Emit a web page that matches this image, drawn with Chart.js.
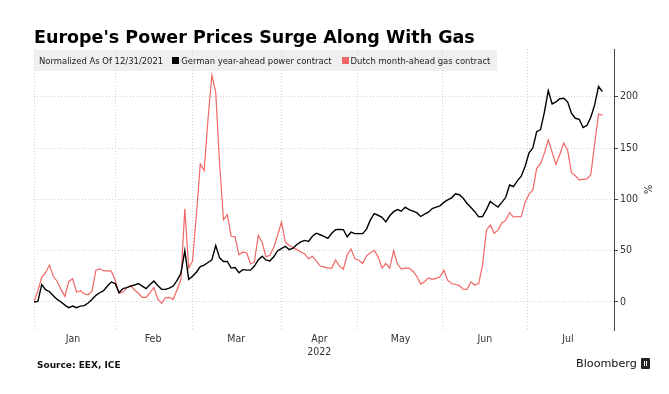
<!DOCTYPE html>
<html>
<head>
<meta charset="utf-8">
<script src="https://cdn.jsdelivr.net/npm/chart.js@4.4.1/dist/chart.umd.min.js"></script>
<style>
  body { margin: 0; background: #fff; }
  #wrap { position: relative; width: 669px; height: 394px; font-family: "DejaVu Sans Condensed", "DejaVu Sans", sans-serif; }
  #chart { position: absolute; left: 0; top: 0; }
  #title { position: absolute; left: 34px; top: 27px; font: bold 17.5px/20px "DejaVu Sans", sans-serif; color: #000; white-space: nowrap; }
  #legend { position: absolute; left: 34px; top: 50px; width: 463px; height: 21px; box-sizing: border-box; padding-left: 5px;
            background: rgba(232, 232, 232, 0.7); display: flex; align-items: center; font-size: 9.4px; color: #1a1a1a; white-space: nowrap; }
  #legend .note { margin-right: 9px; }
  #legend .item { display: flex; align-items: center; margin-right: 10px; }
  #legend .sw { width: 7px; height: 7px; margin-right: 2px; }
  #source { position: absolute; left: 37px; top: 360px; font: bold 9px "DejaVu Sans", sans-serif; color: #111; }
  #brand { position: absolute; left: 576px; top: 357px; font: 11.2px "DejaVu Sans", sans-serif; color: #111; display: flex; align-items: center; }
  #brand .logo { width: 9px; height: 11px; margin-left: 4px; background: #222; border-radius: 1px; position: relative; }
  #brand .logo::after { content: ""; position: absolute; left: 3px; top: 3px; width: 3px; height: 5px; border-left: 1px solid #fff; border-right: 1px solid #fff; box-sizing: border-box; }
</style>
</head>
<body>
<div id="wrap">
  <canvas id="chart" width="669" height="394"></canvas>
  <div id="title">Europe's Power Prices Surge Along With Gas</div>
  <div id="legend"></div>
  <div id="source">Source: EEX, ICE</div>
  <div id="brand">Bloomberg<span class="logo"></span></div>
</div>
<script>
// trading days from 12/31/2021, normalized to 0 %
const germanPower = [
  0, 0.5, 17, 12, 10, 6, 2.5, 0, -3, -5.5,
  -4, -5.5, -4, -3.5, -1, 2.5, 6.5, 9, 11, 15.5,
  19.5, 18, 9, 13, 14, 15.5, 16.5, 18, 15.5, 13,
  17, 20.5, 16, 12.3, 12.3, 13.5, 15.5, 21, 28, 50,
  22, 25, 29, 34.5, 36, 38.5, 41, 55, 43, 39.5,
  39.5, 33, 33.5, 28.5, 31.5, 31, 31, 35, 41, 44.6,
  41, 40, 44, 50, 52, 54.3, 51, 52.5, 56, 58.5,
  60, 59, 64, 67, 65.5, 64, 62, 67, 70.5, 70.7,
  70.5, 63.5, 68, 66.6, 66.6, 66.6, 71, 80, 86, 84.5,
  82.5, 78, 84, 88, 90, 88.5, 92.5, 90, 88.5, 87,
  83.3, 85.5, 87.5, 91, 92.5, 93.7, 97, 99.5, 101.5, 105.5,
  104.5, 101, 96, 92, 88, 83, 83.3, 90, 98, 95,
  92.5, 97, 102, 114, 112.5, 118, 122.5, 132, 145, 150,
  166, 168, 185, 206, 193, 195, 198, 198.5, 195, 184,
  179, 178, 170, 172, 180, 192, 210, 205
];
const dutchGas = [
  0, 11, 24, 28.5, 36, 25, 20, 12, 5.5, 20,
  22.6, 9.5, 11, 8, 7, 10.5, 31, 32.3, 30.5, 30.3,
  30, 21.3, 8.5, 9.7, 14, 16, 11.6, 8.5, 4.5, 4.5,
  9, 14, 3, -1.3, 4, 4.5, 2.6, 12, 22, 90.8,
  33, 40, 85, 134.4, 128, 178, 221, 204, 135, 80,
  85, 64, 63.5, 46, 48.5, 48, 37, 39, 65, 58,
  44, 45.5, 53, 65, 77.8, 58.4, 55, 53, 51, 48.7,
  47, 42, 44.5, 40, 35, 34.2, 33, 33, 41, 34.9,
  32, 46, 51.5, 42, 40.7, 37.5, 45, 48, 50.4, 44,
  33, 37.5, 33, 50, 37, 32, 33, 33, 30, 25,
  17.4, 19.7, 23.5, 22, 23, 24.5, 31, 21, 18, 17,
  16, 12.5, 12.3, 19.5, 16.5, 18, 36, 70, 75, 67,
  70, 77, 79.5, 87, 82.7, 83.3, 83, 97, 105, 109,
  130, 135, 145, 158, 146, 134, 144, 155, 148, 126,
  123, 119, 119.5, 120, 124, 154, 183, 182
];

const monthNames = ["Jan", "Feb", "Mar", "Apr", "May", "Jun", "Jul"];
const monthGridAt = [0, 21.2, 40.9, 63.9, 83.7, 105.7, 127.7]; // trading-day index of month starts
const monthLabelAt = [10.1, 30.8, 52.3, 73.8, 94.8, 116.6, 138.1];
const yearLabel = "2022";
const yTicks = [0, 50, 100, 150, 200];

const gridColor = "#d2d2d2";
const toPoints = (vals) => vals.map((v, i) => ({ x: i, y: v }));

Chart.defaults.font.family = '"DejaVu Sans Condensed", "DejaVu Sans", sans-serif';

const chart = new Chart(document.getElementById("chart"), {
  type: "line",
  data: {
    datasets: [
      {
        label: "German year-ahead power contract",
        data: toPoints(germanPower),
        borderColor: "#000000",
        backgroundColor: "#000000",
        borderWidth: 1.4,
        pointRadius: 0,
      },
      {
        label: "Dutch month-ahead gas contract",
        data: toPoints(dutchGas),
        borderColor: "#f26666",
        backgroundColor: "#f26666",
        borderWidth: 1.2,
        pointRadius: 0,
      },
    ],
  },
  options: {
    responsive: false,
    animation: false,
    layout: { padding: { left: 34, top: 49, right: 14, bottom: 34 } },
    plugins: { legend: { display: false }, tooltip: { enabled: false } },
    scales: {
      x: {
        type: "linear",
        min: 0,
        max: 150,
        afterBuildTicks: (s) => {
          s.ticks = [...monthGridAt, ...monthLabelAt].sort((a, b) => a - b).map((v) => ({ value: v }));
        },
        afterFit: (s) => { s.height = 30; },
        border: { display: false, dash: [1, 2] },
        grid: {
          drawTicks: false,
          color: (c) => (c.tick && monthGridAt.includes(c.tick.value) ? gridColor : "transparent"),
        },
        ticks: {
          autoSkip: false,
          maxRotation: 0,
          minRotation: 0,
          padding: 3,
          color: "#333",
          font: { size: 10.5 },
          callback: (v) => {
            const i = monthLabelAt.indexOf(v);
            if (i < 0) return "";
            return monthNames[i] === "Apr" ? [monthNames[i], yearLabel] : monthNames[i];
          },
        },
      },
      y: {
        position: "right",
        min: -27.3,
        max: 246.5,
        afterBuildTicks: (s) => { s.ticks = yTicks.map((v) => ({ value: v })); },
        afterFit: (s) => { s.width = 41; },
        border: { display: true, color: "#444", width: 1, dash: [1, 2] },
        grid: { color: gridColor, tickColor: "#444", tickLength: 4 },
        ticks: { padding: 2, color: "#333", font: { size: 10.5 } },
        title: { display: true, text: "%", color: "#333", font: { size: 11 }, padding: { top: 1.5, bottom: 0 } },
      },
    },
  },
});

// legend strip from the chart's own datasets
const legend = document.getElementById("legend");
legend.innerHTML = '<span class="note">Normalized As Of 12/31/2021</span>' +
  chart.data.datasets.map((d) =>
    `<span class="item"><span class="sw" style="background:${d.borderColor}"></span>${d.label}</span>`
  ).join("");
</script>
</body>
</html>
